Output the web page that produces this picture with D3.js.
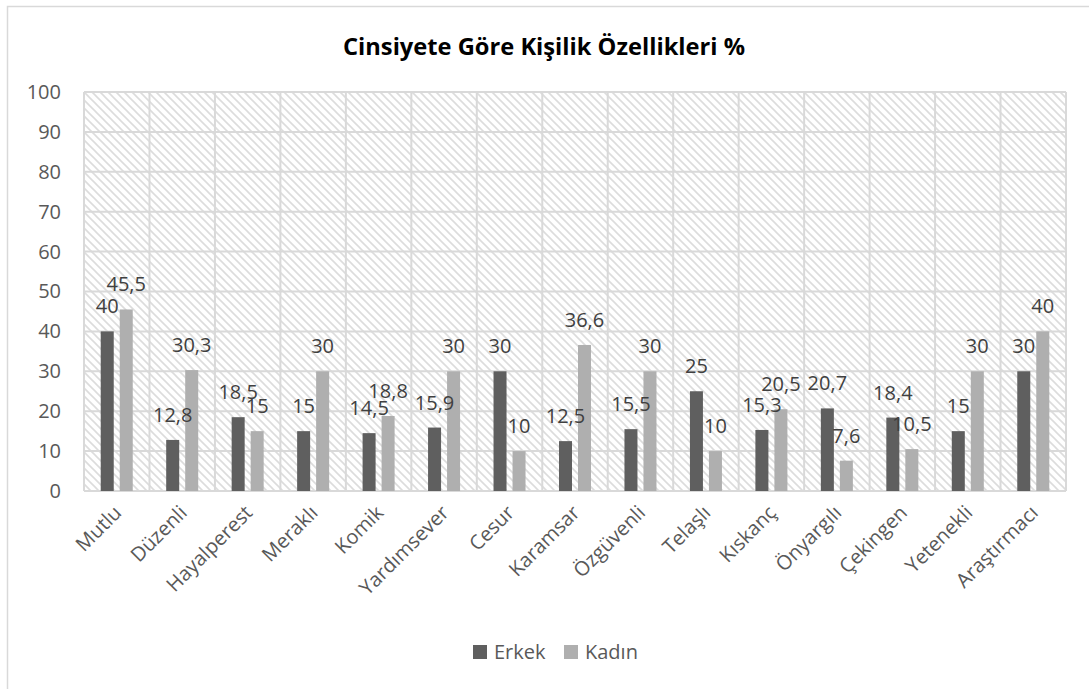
<!DOCTYPE html>
<html lang="tr">
<head>
<meta charset="UTF-8">
<title>Cinsiyete Göre Kişilik Özellikleri</title>
<script src="https://d3js.org/d3.v7.min.js"></script>
<style>
  body { margin: 0; background: #fff; }
  text { font-family: "Open Sans", sans-serif; fill: #595959; }
</style>
</head>
<body>
<div id="chart"></div>
<script>
// data
const categories = ["Mutlu", "Düzenli", "Hayalperest", "Meraklı", "Komik", "Yardımsever", "Cesur",
  "Karamsar", "Özgüvenli", "Telaşlı", "Kıskanç", "Önyargılı", "Çekingen", "Yetenekli", "Araştırmacı"];
const seriesNames = ["Erkek", "Kadın"];
const erkek = [40, 12.8, 18.5, 15, 14.5, 15.9, 30, 12.5, 15.5, 25, 15.3, 20.7, 18.4, 15, 30];
const kadin = [45.5, 30.3, 15, 30, 18.8, 30, 10, 36.6, 30, 10, 20.5, 7.6, 10.5, 30, 40];
const yTicks = [0, 10, 20, 30, 40, 50, 60, 70, 80, 90, 100];
const colors = ["#5f5f5f", "#afafaf"];

const W = 1089, H = 689;
const plot = { left: 84, right: 1066, top: 92, bottom: 491 };

const svg = d3.select("#chart").append("svg")
  .attr("width", W).attr("height", H);

// hatch pattern for the plot area
const defs = svg.append("defs");
const pat = defs.append("pattern")
  .attr("id", "hatch")
  .attr("patternUnits", "userSpaceOnUse")
  .attr("width", 8).attr("height", 8);
pat.append("rect").attr("width", 8).attr("height", 8).attr("fill", "#fff");
pat.append("path")
  .attr("d", "M-2,-2 L10,10 M-2,6 L2,10 M6,-2 L10,2")
  .attr("stroke", "#dcdcdc").attr("stroke-width", 1.6);

// outer chart border
svg.append("rect")
  .attr("x", 7.5).attr("y", 6.5)
  .attr("width", W + 10).attr("height", H + 10)
  .attr("fill", "none").attr("stroke", "#d9d9d9").attr("stroke-width", 1.5);

svg.append("text")
  .attr("x", 544).attr("y", 55)
  .attr("text-anchor", "middle")
  .attr("textLength", 402).attr("lengthAdjust", "spacingAndGlyphs")
  .style("font-weight", "bold").style("font-size", "23px").style("fill", "#000")
  .text("Cinsiyete Göre Kişilik Özellikleri %");

const x0 = d3.scaleBand().domain(categories).range([plot.left, plot.right]);
const x1 = d3.scaleBand().domain(seriesNames).range([0, x0.bandwidth()])
  .paddingInner(0.316).paddingOuter(0.88);
const y = d3.scaleLinear().domain([0, 100]).range([plot.bottom, plot.top]);

svg.append("rect")
  .attr("x", plot.left).attr("y", plot.top)
  .attr("width", plot.right - plot.left).attr("height", plot.bottom - plot.top)
  .attr("fill", "url(#hatch)");

// gridlines
const grid = svg.append("g").attr("stroke", "#d9d9d9").attr("stroke-width", 2);
grid.selectAll("line.h").data(yTicks).join("line")
  .attr("class", "h")
  .attr("x1", plot.left).attr("x2", plot.right)
  .attr("y1", d => y(d)).attr("y2", d => y(d));
grid.selectAll("line.v").data(categories.concat([null])).join("line")
  .attr("class", "v")
  .attr("x1", (d, i) => plot.left + i * x0.step())
  .attr("x2", (d, i) => plot.left + i * x0.step())
  .attr("y1", plot.top).attr("y2", plot.bottom);

// y axis labels
svg.append("g")
  .attr("transform", `translate(${plot.left},0)`)
  .call(d3.axisLeft(y).tickValues(yTicks).tickSize(0).tickPadding(23))
  .call(g => g.select(".domain").remove())
  .call(g => g.selectAll("text").style("font-size", "20px").attr("fill", "#595959")
    .style("font-family", "Open Sans, sans-serif"));

// bars
const rows = categories.map((c, i) => ({ cat: c, vals: [erkek[i], kadin[i]] }));
const groups = svg.selectAll("g.cat").data(rows).join("g")
  .attr("class", "cat")
  .attr("transform", d => `translate(${x0(d.cat)},0)`);

groups.selectAll("rect").data(d => d.vals.map((v, k) => ({ s: seriesNames[k], v, k })))
  .join("rect")
  .attr("x", d => x1(d.s))
  .attr("width", x1.bandwidth())
  .attr("y", d => y(d.v))
  .attr("height", d => y(0) - y(d.v))
  .attr("fill", d => colors[d.k]);

// value labels, drawn after all bars
const fmt = v => String(v).replace(".", ",");
const labels = [];
rows.forEach(r => r.vals.forEach((v, k) => labels.push({ cat: r.cat, s: seriesNames[k], v })));
svg.append("g").selectAll("text").data(labels).join("text")
  .attr("x", d => x0(d.cat) + x1(d.s) + x1.bandwidth() / 2)
  .attr("y", d => y(d.v) - 18)
  .attr("text-anchor", "middle")
  .style("font-size", "20px")
  .style("fill", "#404040")
  .text(d => fmt(d.v));

// category labels
svg.append("g").selectAll("text").data(categories).join("text")
  .attr("text-anchor", "end")
  .attr("transform", d => `translate(${x0(d) + x0.bandwidth() / 2 + 6},${plot.bottom + 23}) rotate(-45)`)
  .style("font-size", "20px")
  .text(d => d);

// legend
const legend = svg.append("g");
const legX = [473, 564];
seriesNames.forEach((s, k) => {
  legend.append("rect")
    .attr("x", legX[k]).attr("y", 645)
    .attr("width", 14).attr("height", 14)
    .attr("fill", colors[k]);
  legend.append("text")
    .attr("x", legX[k] + 21).attr("y", 659)
    .style("font-size", "20px")
    .text(s);
});
</script>
</body>
</html>
